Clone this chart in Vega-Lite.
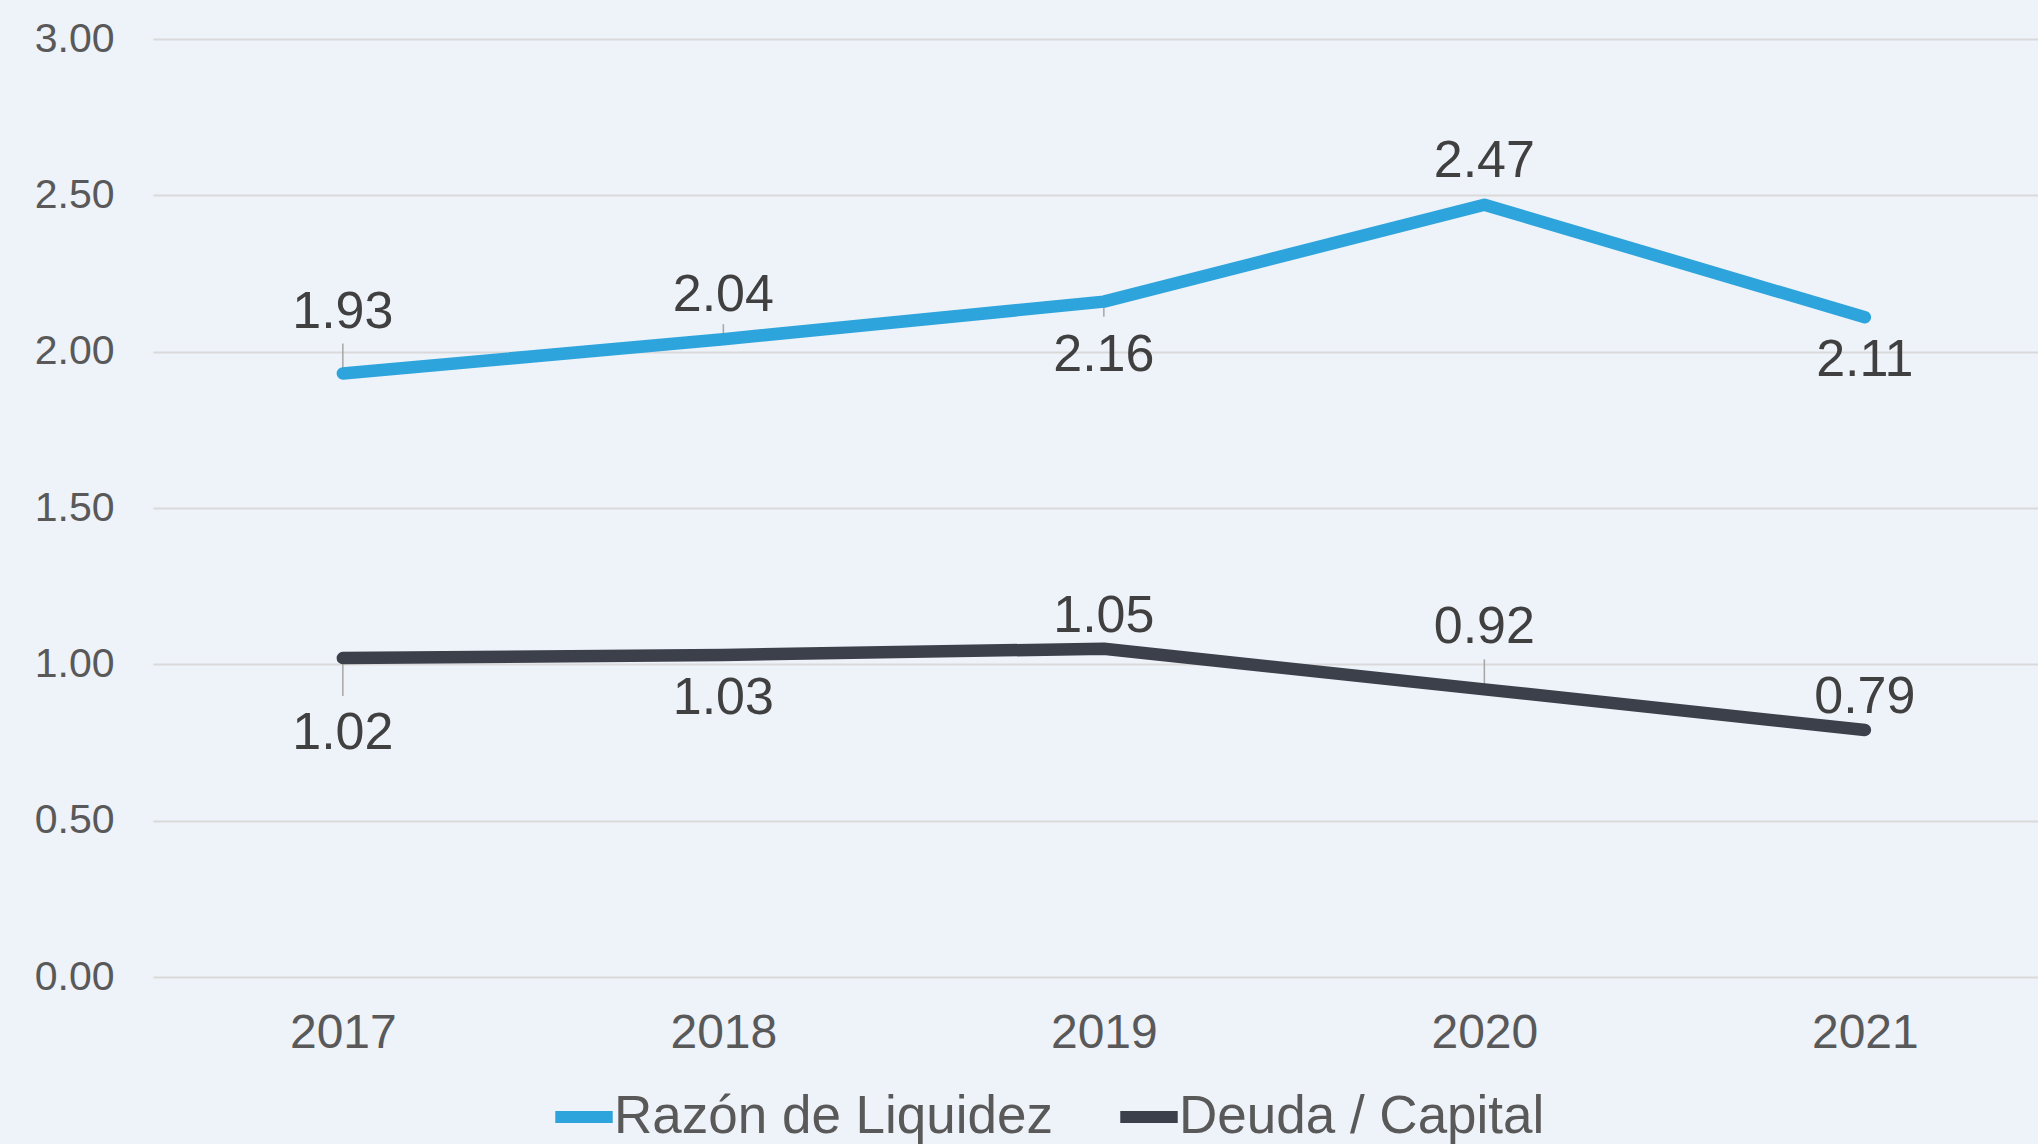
{
  "$schema": "https://vega.github.io/schema/vega-lite/v6.json",
  "width": 1885,
  "height": 938,
  "autosize": {"type": "none"},
  "padding": {"left": 153, "top": 39, "right": 0, "bottom": 167},
  "background": "#EEF2F9",
  "config": {
    "view": {"stroke": null},
    "font": "Liberation Sans",
    "axis": {"labelFont": "Liberation Sans"},
    "legend": {"labelFont": "Liberation Sans"}
  },
  "data": {
    "values": [
      {"year": "2017", "series": "Razón de Liquidez", "value": 1.93},
      {"year": "2018", "series": "Razón de Liquidez", "value": 2.04},
      {"year": "2019", "series": "Razón de Liquidez", "value": 2.16},
      {"year": "2020", "series": "Razón de Liquidez", "value": 2.47},
      {"year": "2021", "series": "Razón de Liquidez", "value": 2.11},
      {"year": "2017", "series": "Deuda / Capital", "value": 1.02},
      {"year": "2018", "series": "Deuda / Capital", "value": 1.03},
      {"year": "2019", "series": "Deuda / Capital", "value": 1.05},
      {"year": "2020", "series": "Deuda / Capital", "value": 0.92},
      {"year": "2021", "series": "Deuda / Capital", "value": 0.79}
    ]
  },
  "encoding": {
    "x": {
      "field": "year",
      "type": "ordinal",
      "scale": {"type": "point", "padding": 0.477, "align": 0.523},
      "axis": {
        "title": null,
        "domain": false,
        "ticks": false,
        "grid": false,
        "labelAngle": 0,
        "labelFontSize": 48,
        "labelColor": "#595959",
        "labelPadding": 32
      }
    },
    "y": {
      "field": "value",
      "type": "quantitative",
      "scale": {"domain": [0, 3], "nice": false, "zero": true},
      "axis": {
        "title": null,
        "values": [0, 0.5, 1, 1.5, 2, 2.5, 3],
        "format": ".2f",
        "domain": false,
        "ticks": false,
        "grid": true,
        "gridColor": "#D9D9D9",
        "gridWidth": 2,
        "labelFontSize": 41,
        "labelColor": "#595959",
        "labelPadding": 39
      }
    }
  },
  "layer": [
    {
      "transform": [{"filter": "(datum.series == 'Razón de Liquidez' && datum.year == '2017') || (datum.series == 'Deuda / Capital' && datum.year == '2020')"}],
      "mark": {"type": "rule", "color": "#A6A6A6", "strokeWidth": 1.5, "y2Offset": -30},
      "encoding": {"y2": {"field": "value"}}
    },
    {
      "transform": [{"filter": "datum.series == 'Razón de Liquidez' && datum.year == '2018'"}],
      "mark": {"type": "rule", "color": "#A6A6A6", "strokeWidth": 1.5, "y2Offset": -15},
      "encoding": {"y2": {"field": "value"}}
    },
    {
      "transform": [{"filter": "datum.series == 'Razón de Liquidez' && datum.year == '2019'"}],
      "mark": {"type": "rule", "color": "#A6A6A6", "strokeWidth": 1.5, "y2Offset": 15},
      "encoding": {"y2": {"field": "value"}}
    },
    {
      "transform": [{"filter": "datum.series == 'Deuda / Capital' && datum.year == '2017'"}],
      "mark": {"type": "rule", "color": "#A6A6A6", "strokeWidth": 1.5, "y2Offset": 38},
      "encoding": {"y2": {"field": "value"}}
    },
    {
      "mark": {"type": "line", "strokeWidth": 12.5, "strokeCap": "round", "strokeJoin": "round"},
      "encoding": {
        "color": {
          "field": "series",
          "type": "nominal",
          "scale": {"domain": ["Razón de Liquidez", "Deuda / Capital"], "range": ["#2EA4DC", "#3C404B"]},
          "legend": {
            "title": null,
            "orient": "none",
            "legendX": 396,
            "legendY": 1043,
            "direction": "horizontal",
            "symbolType": "stroke",
            "symbolStrokeWidth": 12,
            "symbolSize": 3300,
            "labelFontSize": 53,
            "labelColor": "#595959",
            "labelLimit": 0,
            "labelOffset": -5,
            "columnPadding": 42
          }
        }
      }
    },
    {
      "transform": [{"filter": "datum.series == 'Razón de Liquidez' && (datum.year == '2018' || datum.year == '2020')"}],
      "mark": {"type": "text", "fontSize": 52, "color": "#404040", "baseline": "middle", "dy": -44},
      "encoding": {"text": {"field": "value", "format": ".2f"}}
    },
    {
      "transform": [{"filter": "datum.series == 'Deuda / Capital' && (datum.year == '2019' || datum.year == '2021')"}],
      "mark": {"type": "text", "fontSize": 52, "color": "#404040", "baseline": "middle", "dy": -33},
      "encoding": {"text": {"field": "value", "format": ".2f"}}
    },
    {
      "transform": [{"filter": "(datum.series == 'Razón de Liquidez' && datum.year == '2017') || (datum.series == 'Deuda / Capital' && datum.year == '2020')"}],
      "mark": {"type": "text", "fontSize": 52, "color": "#404040", "baseline": "middle", "dy": -62},
      "encoding": {"text": {"field": "value", "format": ".2f"}}
    },
    {
      "transform": [{"filter": "(datum.series == 'Razón de Liquidez' && datum.year == '2021') || (datum.series == 'Deuda / Capital' && datum.year == '2018')"}],
      "mark": {"type": "text", "fontSize": 52, "color": "#404040", "baseline": "middle", "dy": 43},
      "encoding": {"text": {"field": "value", "format": ".2f"}}
    },
    {
      "transform": [{"filter": "datum.series == 'Razón de Liquidez' && datum.year == '2019'"}],
      "mark": {"type": "text", "fontSize": 52, "color": "#404040", "baseline": "middle", "dy": 53},
      "encoding": {"text": {"field": "value", "format": ".2f"}}
    },
    {
      "transform": [{"filter": "datum.series == 'Deuda / Capital' && datum.year == '2017'"}],
      "mark": {"type": "text", "fontSize": 52, "color": "#404040", "baseline": "middle", "dy": 75},
      "encoding": {"text": {"field": "value", "format": ".2f"}}
    }
  ]
}
